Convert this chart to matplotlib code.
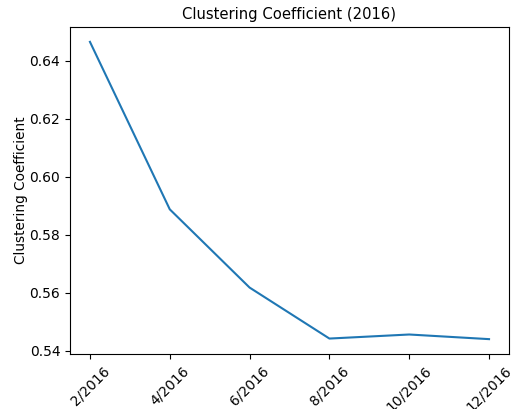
import matplotlib
matplotlib.use("Agg")
import matplotlib.pyplot as plt

months = ["2/2016", "4/2016", "6/2016", "8/2016", "10/2016", "12/2016"]
clustering = [0.6466, 0.5888, 0.5618, 0.5442, 0.5456, 0.5440]

fig = plt.figure(figsize=(5.11, 4.09), dpi=100)
ax = fig.add_axes([70 / 511, 1 - 354 / 409, 439 / 511, 327 / 409])
ax.plot(range(len(months)), clustering, color="#1f77b4", linewidth=1.5)

ax.set_xticks(range(len(months)))
ax.set_xticklabels(months, rotation=45)
ax.set_yticks([0.54, 0.56, 0.58, 0.60, 0.62, 0.64])
ax.set_ylabel("Clustering Coefficient", fontsize=9.8, labelpad=1)
ax.set_title("Clustering Coefficient (2016)", fontsize=10.6)

fig.savefig("out.png", dpi=100)
